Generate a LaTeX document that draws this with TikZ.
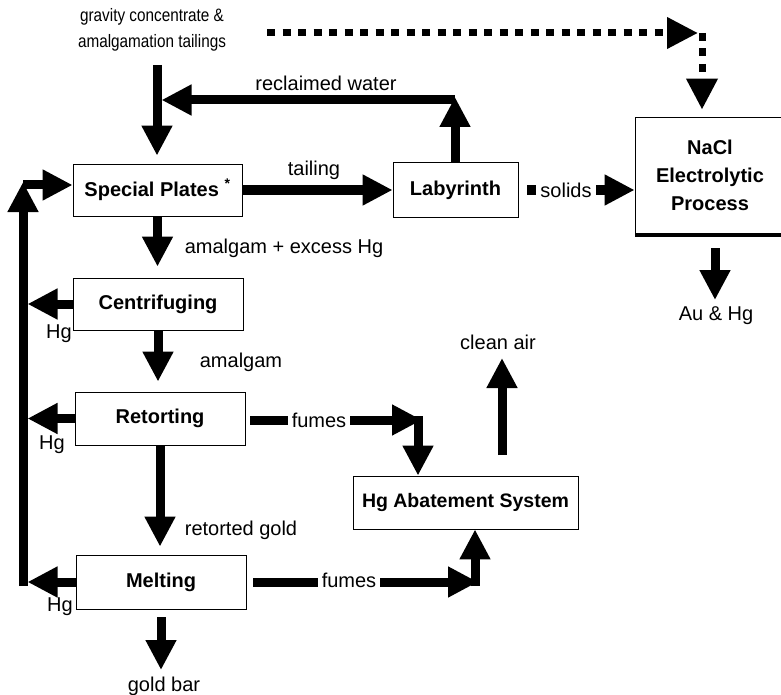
\documentclass[tikz,border=0pt]{standalone}
\usepackage{fontspec}
\setmainfont{Liberation Sans}
\newfontfamily\narrowfont[FakeStretch=0.85]{Liberation Sans}
\usetikzlibrary{arrows.meta}

\tikzset{
  box/.style={draw, line width=0.8pt, minimum width=170pt, minimum height=53pt,
    inner sep=0pt, font=\fontsize{20}{23}\selectfont\bfseries},
  lbl/.style={inner sep=1pt, font=\fontsize{20}{23}\selectfont},
  gaplbl/.style={lbl, fill=white, inner xsep=4pt},
  flow/.style={line width=9pt, -{Triangle[length=30pt,width=29pt]}},
  dotflow/.style={line width=7pt, dash pattern=on 8pt off 7.5pt,
    -{Triangle[length=31pt,width=30pt]}},
}

\begin{document}
\begin{tikzpicture}[x=1pt, y=-1pt]
\useasboundingbox (0,0) rectangle (781,695);

% process boxes
\node[box, minimum width=169pt, minimum height=52pt] (sp) at (157.5,190) {Special Plates \textsuperscript{*}};
\node[box, minimum width=125pt, minimum height=55pt] (lab) at (455.5,190) {Labyrinth};
\node[box, minimum width=150pt, minimum height=116pt, align=center,
      font=\fontsize{20}{28}\selectfont\bfseries] (nacl) at (710,175) {NaCl\\Electrolytic\\Process};
\fill (nacl.south west) rectangle ([yshift=-4pt]nacl.south east);
\node[box, minimum height=52pt] (cen) at (158,304) {Centrifuging};
\node[box] (ret) at (160,418.5) {Retorting};
\node[box, minimum height=54pt] (melt) at (161,582) {Melting};
\node[box, minimum width=225pt, font=\fontsize{19.5}{22}\selectfont\bfseries] (hga) at (465.5,502.5) {Hg Abatement System};

% feed
\node[font=\narrowfont\fontsize{18}{26}\selectfont, align=center] (src) at (152,30)
  {gravity concentrate \&\\amalgamation tailings};
\coordinate (inTop) at (157,65);
\draw[flow, shorten >=8pt] (inTop) -- (inTop |- sp.north);

% dotted bypass to the electrolytic cell
\coordinate (dA) at (267,33);
\coordinate (dC) at (702,33);
\draw[dotflow, shorten >=4pt] (dA) -- (dC);
\draw[dotflow, shorten >=7pt] (dC) -- (dC |- nacl.north);

% reclaimed water loop
\coordinate (rw) at (455,100);
\draw[flow, shorten >=-3pt] (lab.north -| rw) -- (rw);
\draw[flow, shorten >=4.5pt] (rw) -- (inTop |- rw);
\node[lbl] (lrw) at (326,83) {reclaimed water};

% tailing and solids
\draw[flow] (sp.east) -- (lab.west);
\node[lbl] (ltail) at (314,170) {tailing};
\draw[flow, shorten <=9pt] (lab.east) -- (lab.east -| nacl.west);
\node[gaplbl] (lsol) at (566,190) {solids};

% Au & Hg product
\coordinate (au) at (715,300);
\draw[flow, shorten <=15pt] (nacl.south -| au) -- (au);
\node[lbl] (lau) at (716,316) {Au \& Hg};

% main line
\draw[flow, shorten >=11pt] (sp.south) -- (sp.south |- cen.north);
\node[lbl] (lam1) at (284,248) {amalgam + excess Hg};
\draw[flow, shorten >=10pt] (cen.south) -- (cen.south |- ret.north);
\node[lbl] (lam2) at (241,362) {amalgam};
\draw[flow, shorten >=8pt] (ret.south) -- (ret.south |- melt.north);
\node[lbl] (lrg) at (241,530) {retorted gold};
\coordinate (bar) at (161,670);
\draw[flow, shorten <=8pt] (melt.south) -- (bar);
\node[lbl] (lbar) at (164,686) {gold bar};

% mercury return line
\coordinate (rlBot) at (23,586);
\coordinate (rlTop) at (23,182);
\draw[flow] (rlBot) -- (rlTop);
\draw[flow] ([yshift=-3pt]rlTop) -- ([yshift=-3pt]rlTop -| sp.west);
\draw[flow, shorten >=4.5pt] (cen.west) -- (cen.west -| rlTop);
\draw[flow, shorten >=4.5pt] (ret.west) -- (ret.west -| rlTop);
\draw[flow, shorten >=4.5pt] (melt.west) -- (melt.west -| rlTop);
\node[lbl] (lhg1) at (59,334) {Hg};
\node[lbl] (lhg2) at (52,445) {Hg};
\node[lbl] (lhg3) at (60,607) {Hg};

% fumes to abatement
\coordinate (rc) at (418,420);
\draw[flow, shorten <=5pt, shorten >=-4pt] (ret.east |- rc) -- (rc);
\draw[flow] ([yshift=4pt]rc) -- (rc |- hga.north);
\node[gaplbl] (lf1) at (319,420) {fumes};
\coordinate (mc) at (475,582);
\draw[flow, shorten <=7pt, shorten >=-3pt] (melt.east) -- (mc);
\draw[flow] ([yshift=-4pt]mc) -- (mc |- hga.south);
\node[gaplbl] (lf2) at (349,580) {fumes};

% clean air
\coordinate (caA) at (502,455);
\coordinate (caB) at (502,358);
\draw[flow] (caA) -- (caB);
\node[lbl] (lca) at (498,342) {clean air};

\end{tikzpicture}
\end{document}
